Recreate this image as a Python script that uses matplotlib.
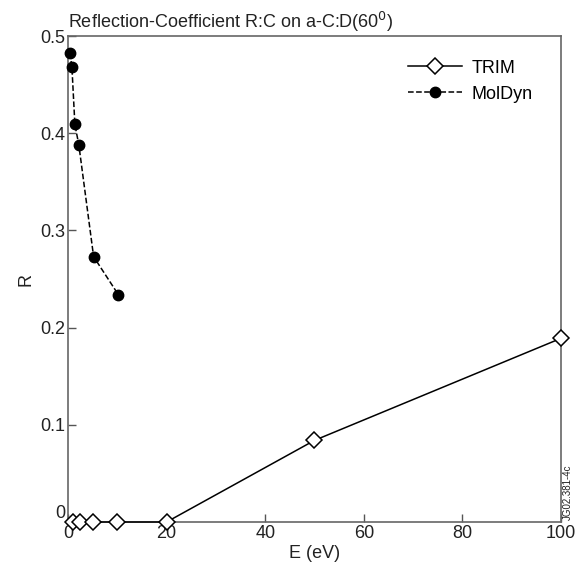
import matplotlib
matplotlib.use("Agg")
import matplotlib.pyplot as plt

# TRIM data
e_trim = [1, 2.5, 5, 10, 20, 50, 100]
r_trim = [0.0, 0.0, 0.0, 0.0, 0.0, 0.084, 0.189]

# MolDyn data
e_md = [0.4, 0.8, 1.4, 2.2, 5.2, 10.2]
r_md = [0.4825, 0.468, 0.409, 0.388, 0.273, 0.234]

plt.rcParams['font.family'] = ['Liberation Sans', 'DejaVu Sans']

fig = plt.figure(figsize=(5.83, 5.70), dpi=100, facecolor='w')
ax = fig.add_axes([0.1166, 0.0842, 0.8457, 0.8526])

ax.plot(e_trim, r_trim, 'k-', lw=1.1, marker='D', ms=8, mfc='w', mec='k',
        mew=1.1, label='TRIM', clip_on=False, zorder=3)
ax.plot(e_md, r_md, 'k--', lw=1.1, marker='o', ms=7.5, mfc='k', mec='k',
        label='MolDyn', clip_on=False, zorder=3)

ax.set_xlim(0, 100)
ax.set_ylim(0, 0.5)
ax.set_xticks([0, 20, 40, 60, 80, 100])
ax.set_yticks([0, 0.1, 0.2, 0.3, 0.4, 0.5])
ax.set_yticklabels(['0', '0.1', '0.2', '0.3', '0.4', '0.5'])
ax.tick_params(direction='in', length=6, width=1, colors='#555555',
               labelcolor='#222222', labelsize=13, pad=2)
# lift the "0" on the R axis a little, as in the original
ax.get_yticklabels()[0].set_va('bottom')
for s in ax.spines.values():
    s.set_color('#666666')
    s.set_linewidth(1.2)

ax.set_xlabel('E (eV)', fontsize=13, color='#222222', labelpad=2)
ax.set_ylabel('R', fontsize=13, color='#222222', labelpad=4)
ax.set_title('Reflection-Coefficient R:C on a-C:D(60$^0$)', loc='left',
             fontsize=13, color='#222222', pad=6)

leg = ax.legend(loc='upper right', bbox_to_anchor=(0.975, 0.985), frameon=False,
                fontsize=13, handlelength=3, handletextpad=0.5, labelspacing=0.5)

fig.text(0.974, 0.137, 'JG02.381-4c', rotation=90, fontsize=7,
         ha='center', va='center', color='#222222')

fig.savefig('out.png', dpi=100)
